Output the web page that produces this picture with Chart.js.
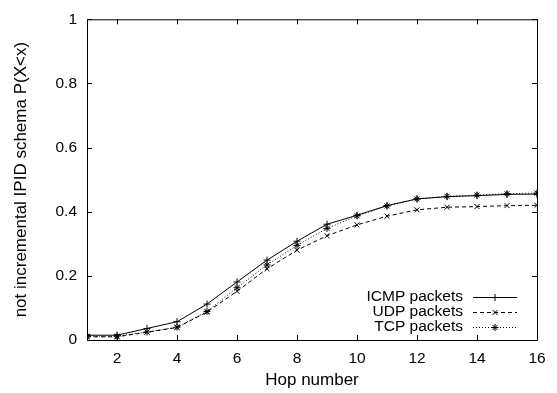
<!DOCTYPE html>
<html>
<head>
<meta charset="utf-8">
<script src="https://cdn.jsdelivr.net/npm/chart.js@4/dist/chart.umd.min.js"></script>
<style>
  html, body { margin: 0; padding: 0; background: #fff; }
  #wrap { width: 557px; height: 393px; }
</style>
</head>
<body>
<div id="wrap"><canvas id="chart" width="557" height="393"></canvas></div>
<script>
// hop numbers and CDF values
const hops = [1, 2, 3, 4, 5, 6, 7, 8, 9, 10, 11, 12, 13, 14, 15, 16];
const icmpVals = [0.015, 0.015, 0.036, 0.057, 0.112, 0.181, 0.249, 0.308, 0.361, 0.389, 0.419, 0.440, 0.447, 0.450, 0.454, 0.455];
const udpVals  = [0.010, 0.010, 0.024, 0.039, 0.087, 0.152, 0.222, 0.280, 0.325, 0.359, 0.386, 0.406, 0.414, 0.416, 0.419, 0.420];
const tcpVals  = [0.012, 0.012, 0.025, 0.040, 0.089, 0.163, 0.234, 0.295, 0.348, 0.387, 0.418, 0.440, 0.448, 0.452, 0.456, 0.458];
const xTicks = [2, 4, 6, 8, 10, 12, 14, 16];
const yTicks = [0, 0.2, 0.4, 0.6, 0.8, 1];
const yTickLabels = ['0', '0.2', '0.4', '0.6', '0.8', '1'];

const FONT = 'Liberation Sans, Arial, Helvetica, sans-serif';

function series(label, vals, style, dash) {
  return {
    label: label,
    data: hops.map((h, i) => ({ x: h, y: vals[i] })),
    borderColor: '#000',
    backgroundColor: '#000',
    borderWidth: 1,
    borderDash: dash,
    pointStyle: style,
    pointRadius: 3.5,
    pointBorderWidth: 1,
    pointBorderColor: '#000',
    tension: 0
  };
}

// frame + inward ticks on all four sides, like gnuplot
const framePlugin = {
  id: 'frame',
  afterDatasetsDraw(chart) {
    const { ctx, chartArea: a, scales } = chart;
    ctx.save();
    ctx.strokeStyle = '#000';
    ctx.lineWidth = 1;
    ctx.setLineDash([]);
    ctx.strokeRect(a.left + 0.5, a.top + 0.5, a.right - a.left, a.bottom - a.top);
    const tl = 5;
    ctx.beginPath();
    scales.x.ticks.forEach(t => {
      const px = Math.round(scales.x.getPixelForValue(t.value)) + 0.5;
      ctx.moveTo(px, a.bottom); ctx.lineTo(px, a.bottom - tl);
      ctx.moveTo(px, a.top); ctx.lineTo(px, a.top + tl);
    });
    scales.y.ticks.forEach(t => {
      const py = Math.round(scales.y.getPixelForValue(t.value)) + 0.5;
      ctx.moveTo(a.left, py); ctx.lineTo(a.left + tl, py);
      ctx.moveTo(a.right, py); ctx.lineTo(a.right - tl, py);
    });
    ctx.stroke();
    ctx.restore();
  }
};

// legend in the lower right corner, text then sample
const legendPlugin = {
  id: 'keybox',
  afterDatasetsDraw(chart) {
    const { ctx } = chart;
    const textRight = 463, x0 = 473, x1 = 517, y0 = 297, dy = 15;
    ctx.save();
    ctx.font = '15.5px ' + FONT;
    ctx.textAlign = 'right';
    ctx.textBaseline = 'middle';
    chart.data.datasets.forEach((ds, i) => {
      const y = y0 + i * dy;
      ctx.fillStyle = '#000';
      ctx.fillText(ds.label, textRight, y);
      ctx.strokeStyle = '#000';
      ctx.lineWidth = 1;
      ctx.setLineDash(ds.borderDash || []);
      ctx.beginPath();
      ctx.moveTo(x0, y + 0.5); ctx.lineTo(x1, y + 0.5);
      ctx.stroke();
      ctx.setLineDash([]);
      Chart.helpers.drawPoint(ctx, { pointStyle: ds.pointStyle, radius: ds.pointRadius, borderWidth: 1 }, (x0 + x1) / 2, y + 0.5);
    });
    ctx.restore();
  }
};

new Chart(document.getElementById('chart'), {
  type: 'line',
  data: {
    datasets: [
      series('ICMP packets', icmpVals, 'cross', []),
      series('UDP packets', udpVals, 'crossRot', [4, 3]),
      series('TCP packets', tcpVals, 'star', [1, 2])
    ]
  },
  options: {
    responsive: false,
    animation: false,
    layout: { padding: { top: 12, right: 20, left: 0, bottom: 0 } },
    plugins: { legend: { display: false }, tooltip: { enabled: false } },
    scales: {
      x: {
        type: 'linear', min: 1, max: 16,
        afterBuildTicks: s => { s.ticks = xTicks.map(v => ({ value: v })); },
        afterFit: s => { s.height = 53; },
        grid: { display: false, drawTicks: false },
        border: { display: false },
        ticks: { color: '#000', padding: 9, maxRotation: 0, font: { family: FONT, size: 15.5 } },
        title: { display: true, text: 'Hop number', color: '#000', padding: { top: 0, bottom: 2 }, font: { family: FONT, size: 17 } }
      },
      y: {
        min: 0, max: 1,
        afterBuildTicks: s => { s.ticks = yTicks.map(v => ({ value: v })); },
        afterFit: s => { s.width = 87; },
        grid: { display: false, drawTicks: false },
        border: { display: false },
        ticks: {
          color: '#000', padding: 10, font: { family: FONT, size: 15.5 },
          callback: (v, i) => yTickLabels[i]
        },
        title: { display: true, text: 'not incremental IPID schema P(X<x)', color: '#000', padding: { top: 11, bottom: 0 }, font: { family: FONT, size: 17 } }
      }
    }
  },
  plugins: [framePlugin, legendPlugin]
});
</script>
</body>
</html>
